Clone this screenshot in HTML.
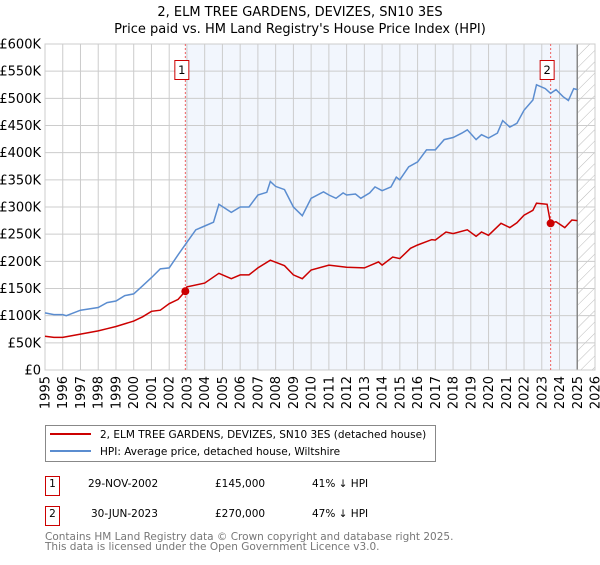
<!DOCTYPE html>
<html><head><meta charset="utf-8"><style>
body{margin:0;background:#fff;}
svg text{font-family:"DejaVu Sans","Liberation Sans",sans-serif;}
</style></head><body>
<svg id="c" width="600" height="560" xmlns="http://www.w3.org/2000/svg">
<text x="300" y="16" text-anchor="middle" font-size="13">2, ELM TREE GARDENS, DEVIZES, SN10 3ES</text>
<text x="300" y="33" text-anchor="middle" font-size="13">Price paid vs. HM Land Registry's House Price Index (HPI)</text>
<defs><pattern id="hatch" width="8" height="8" patternUnits="userSpaceOnUse" patternTransform="rotate(45)"><line x1="0" y1="0" x2="0" y2="8" stroke="#bbb" stroke-width="1"/></pattern></defs>
<g id="plot"></g>
<g>
<rect x="45.5" y="425.5" width="390" height="36" fill="#fff" stroke="#888"/>
<line x1="50" y1="434" x2="91" y2="434" stroke="#cc0000" stroke-width="2"/>
<text x="100" y="438" font-size="10.5">2, ELM TREE GARDENS, DEVIZES, SN10 3ES (detached house)</text>
<line x1="50" y1="451" x2="91" y2="451" stroke="#5b8dd0" stroke-width="2"/>
<text x="100" y="455" font-size="10.5">HPI: Average price, detached house, Wiltshire</text>
</g>
<g font-size="10.5">
<rect x="45.5" y="476.5" width="14" height="19" fill="#fff" stroke="#cc0000"/>
<text x="52.5" y="487" text-anchor="middle">1</text>
<text x="88" y="487">29-NOV-2002</text><text x="215" y="487">£145,000</text><text x="312" y="487">41% ↓ HPI</text>
<rect x="45.5" y="506.5" width="14" height="19" fill="#fff" stroke="#cc0000"/>
<text x="52.5" y="517" text-anchor="middle">2</text>
<text x="91" y="517">30-JUN-2023</text><text x="215" y="517">£270,000</text><text x="312" y="517">47% ↓ HPI</text>
</g>
<text x="45" y="540" font-size="10.5" fill="#777">Contains HM Land Registry data © Crown copyright and database right 2025.</text>
<text x="45" y="550" font-size="10.5" fill="#777">This data is licensed under the Open Government Licence v3.0.</text>
</svg>
<script>
const hpiYears=[1995,1995.5,1996,1996.2,1997,1998,1998.5,1999,1999.5,2000,2000.5,2001,2001.5,2002,2002.5,2003,2003.5,2004,2004.5,2004.8,2005.5,2006,2006.5,2007,2007.5,2007.7,2008,2008.5,2009,2009.5,2010,2010.7,2011,2011.4,2011.8,2012,2012.5,2012.8,2013.3,2013.6,2014,2014.5,2014.8,2015,2015.5,2016,2016.5,2017,2017.5,2018,2018.5,2018.8,2019.3,2019.6,2020,2020.5,2020.8,2021.2,2021.6,2022,2022.5,2022.7,2023.2,2023.5,2023.8,2024.2,2024.5,2024.8,2025];
const hpiValues=[105,102,102,100,110,115,124,127,137,140,155,170,186,188,212,235,258,265,272,305,290,300,300,322,327,347,338,332,300,284,316,328,322,316,326,322,324,316,326,337,330,337,355,350,374,383,405,405,424,428,436,442,424,433,427,436,459,447,454,478,497,525,518,509,516,503,496,518,516];
const propYears=[1995,1995.5,1996,1997,1998,1998.5,1999,2000,2000.5,2001,2001.5,2002,2002.5,2002.91,2003,2004,2004.8,2005.5,2006,2006.5,2007,2007.7,2008.5,2009,2009.5,2010,2011,2012,2013,2013.8,2014,2014.6,2015,2015.6,2016,2016.8,2017,2017.6,2018,2018.8,2019.3,2019.6,2020,2020.7,2021.2,2021.6,2022,2022.5,2022.7,2023.3,2023.5,2023.8,2024.3,2024.7,2025];
const propValues=[62,60,60,66,72,76,80,90,98,108,110,122,130,145,153,160,178,168,175,175,188,202,192,175,168,184,193,189,188,199,193,208,205,224,230,240,239,254,251,258,246,254,248,270,262,271,285,294,307,305,270,273,262,276,275];
const saleYears=[2002.91,2023.5];
const saleValues=[145,270];
const yTicks=[0,50,100,150,200,250,300,350,400,450,500,550,600];
const xTicks=[1995,1996,1997,1998,1999,2000,2001,2002,2003,2004,2005,2006,2007,2008,2009,2010,2011,2012,2013,2014,2015,2016,2017,2018,2019,2020,2021,2022,2023,2024,2025,2026];
const L=45,R=595,T=44,B=370;
const X=y=>L+(y-1995)/31*(R-L);
const Y=v=>B-v/600*(B-T);
const NS='http://www.w3.org/2000/svg';
const g=document.getElementById('plot');
function mk(t,a,p){const e=document.createElementNS(NS,t);for(const k in a)e.setAttribute(k,a[k]);(p||g).appendChild(e);return e;}
mk('rect',{x:X(saleYears[0]),y:T,width:X(2025)-X(saleYears[0]),height:B-T,fill:'#f2f6fd'});
mk('rect',{x:X(2025),y:T,width:R-X(2025),height:B-T,fill:'url(#hatch)'});
yTicks.forEach(v=>{
 const l=mk('line',{x1:L,x2:R,y1:Y(v),y2:Y(v),stroke:'#ccc'});
 
 const t=mk('text',{x:L-4,y:Y(v)+4.5,'text-anchor':'end','font-size':'13'});
 
 t.textContent=v===0?'£0':'£'+v+'K';
});
xTicks.forEach(yr=>{
 const l=mk('line',{x1:X(yr),x2:X(yr),y1:T,y2:B,stroke:'#ccc'});
 
 const t=mk('text',{x:0,y:0,'font-size':'13','text-anchor':'end',transform:`translate(${X(yr)+4.5},${B+6}) rotate(-90)`});
 
 t.textContent=yr;
});
mk('line',{x1:X(2025),x2:X(2025),y1:T,y2:B,stroke:'#888','stroke-width':1.5});
mk('rect',{x:L,y:T,width:R-L,height:B-T,fill:'none',stroke:'#ccc'});
saleYears.forEach((s,i)=>{
 const l=mk('line',{x1:X(s),x2:X(s),y1:T,y2:B,stroke:'#f06060','stroke-dasharray':'2,2'});
 
 const r=mk('rect',{x:X(s)-10.5,y:60.5,width:14,height:19,fill:'#fff',stroke:'#cc0000'});
 
 const t=mk('text',{x:X(s)-3.5,y:74,'text-anchor':'middle','font-size':'11.5'});
 
 t.textContent=i+1;
});
const path=(xs,vs)=>xs.map((x,i)=>(i?'L':'M')+X(x).toFixed(1)+','+Y(vs[i]).toFixed(1)).join('');
const h=mk('path',{d:path(hpiYears,hpiValues),fill:'none',stroke:'#5b8dd0','stroke-width':1.5});

const p=mk('path',{d:path(propYears,propValues),fill:'none',stroke:'#cc0000','stroke-width':1.5});

saleYears.forEach((s,i)=>{
 const c=mk('circle',{cx:X(s),cy:Y(saleValues[i]),r:4,fill:'#cc0000'});
 
});
</script>
</body></html>
